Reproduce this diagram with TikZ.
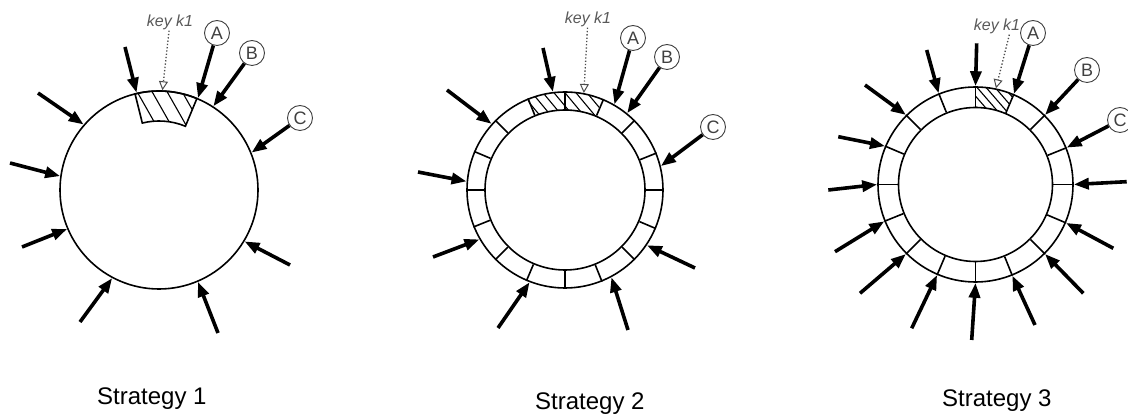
\documentclass[tikz,border=0pt]{standalone}
\usepackage{fontspec}
\setmainfont{Liberation Sans}
\usetikzlibrary{arrows.meta}

\begin{document}
\begin{tikzpicture}[x=1pt,y=1pt,
    ring/.style={draw, circle, line width=1.6pt, inner sep=0pt},
    feed/.style={line width=3.6pt, -{Triangle[length=15pt,width=11pt]}},
    peer/.style={draw=black!75, circle, line width=0.9pt, minimum size=25pt, inner sep=0pt,
      text=black!75, font=\fontsize{18}{18}\selectfont},
    keytxt/.style={text=black!65, inner sep=1pt, font=\fontsize{16}{16}\selectfont\itshape},
    keyline/.style={black!70, dotted, line width=1.3pt,
      -{Triangle[open,length=9pt,width=9pt,line width=1pt]}},
    hatch/.style={line width=1.1pt},
    title/.style={anchor=base west, inner sep=0pt, font=\fontsize{24}{24}\selectfont}]
  \useasboundingbox (0,0) rectangle (1128,417);

  % Strategy 1
  \node[ring, minimum size=198pt] (s1) at (159,227) {};
  \begin{scope}
    \clip ([shift={(67.5:69)}]s1.center) -- ([shift={(67.5:99)}]s1.center)
      arc[start angle=67.5, end angle=104, radius=99pt] -- ([shift={(104:69)}]s1.center)
      arc[start angle=104, end angle=67.5, radius=69pt] -- cycle;
    \foreach \x in {108,123,...,213}
      \draw[hatch] (\x,324) ++(-20,35) -- ++(45,-79.4);
  \end{scope}
  \draw[line width=1.6pt] ([shift={(67.5:69)}]s1.center) -- ([shift={(67.5:99)}]s1.center)
    arc[start angle=67.5, end angle=104, radius=99pt] -- ([shift={(104:69)}]s1.center)
    arc[start angle=104, end angle=67.5, radius=69pt] -- cycle;
  \foreach \a/\x/\y in {103.5/125/370, 139.7/38/324, 172.5/10/254, 203.5/22/170,
      242.4/80/95, 293.3/218/84, 329.7/290/152} {
    \coordinate (t) at (\x,\y);
    \draw[feed] (t) -- (s1.\a);
  }
  \node[peer] (A1) at (217,384) {A};
  \node[peer] (B1) at (252,364) {B};
  \node[peer] (C1) at (300,299) {C};
  \draw[feed] (A1) -- (s1.67.8);
  \draw[feed] (B1) -- (s1.57.5);
  \draw[feed] (C1) -- (s1.22.2);
  \node[keytxt] (k1) at (170,395) {key k1};
  \draw[keyline] (k1) -- (s1.88);
  \node[title] (l1) at (97,12) {Strategy 1};

  % Strategy 2
  \node[ring, minimum size=196pt] (s2) at (565,227) {};
  \node[ring, minimum size=160pt] (i2) at (565,227) {};
  \begin{scope}
    \clip ([shift={(67.5:80)}]s2.center) -- ([shift={(67.5:98)}]s2.center)
      arc[start angle=67.5, end angle=112.5, radius=98pt] -- ([shift={(112.5:80)}]s2.center)
      arc[start angle=112.5, end angle=67.5, radius=80pt] -- cycle;
    \foreach \x in {490,501,...,620}
      \draw[hatch] (\x,335) -- ++(50,-60);
  \end{scope}
  \foreach \a in {0,22.5,45,67.5,90,112.5,135,157.5,180,202.5,225,247.5,270,292.5,315,337.5}
    \draw[line width=1.6pt] (i2.\a) -- (s2.\a);
  \foreach \a/\x/\y in {97.6/543/369, 138.6/447/327, 175.9/418/245, 210.6/433/160,
      249.1/498/89, 298/628/87, 326.8/695/149} {
    \coordinate (t) at (\x,\y);
    \draw[feed] (t) -- (s2.\a);
  }
  \node[peer] (A2) at (633,379) {A};
  \node[peer] (B2) at (667,360) {B};
  \node[peer] (C2) at (713,290) {C};
  \draw[feed] (A2) -- (s2.60.5);
  \draw[feed] (B2) -- (s2.51.2);
  \draw[feed] (C2) -- (s2.14.3);
  \node[keytxt] (k2) at (588,398) {key k1};
  \draw[keyline] (k2) -- (s2.79);
  \node[title] (l2) at (535,7) {Strategy 2};

  % Strategy 3
  \node[ring, minimum size=195pt] (s3) at (975.5,232.5) {};
  \node[ring, minimum size=154pt] (i3) at (975.5,232.5) {};
  \begin{scope}
    \clip ([shift={(67.5:77)}]s3.center) -- ([shift={(67.5:97.5)}]s3.center)
      arc[start angle=67.5, end angle=90, radius=97.5pt] -- ([shift={(90:77)}]s3.center)
      arc[start angle=90, end angle=67.5, radius=77pt] -- cycle;
    \foreach \x in {950,959,...,1030}
      \draw[hatch] (\x,340) -- ++(45,-52);
  \end{scope}
  \foreach \a in {0,22.5,45,67.5,90,112.5,135,157.5,180,202.5,225,247.5,270,292.5,315,337.5}
    \draw[line width=1.6pt] (i3.\a) -- (s3.\a);
  \foreach \a/\x/\y in {112.5/926.7/367, 90/976.7/373.7, 0/1126.7/235.3, 337.5/1113.3/168.7,
      315/1083.3/123.7, 292.5/1035/92, 270/971.7/77, 247.5/911.7/88.7, 225/860/123.7,
      202.5/835/165.3, 180/828.3/227, 157.5/838.3/280.3, 135/865/332} {
    \coordinate (t) at (\x,\y);
    \draw[feed] (t) -- (s3.\a);
  }
  \node[peer] (A3) at (1033,384) {A};
  \node[peer] (B3) at (1087,347) {B};
  \node[peer] (C3) at (1120,297) {C};
  \draw[feed] (A3) -- (s3.67.5);
  \draw[feed] (B3) -- (s3.45);
  \draw[feed] (C3) -- (s3.22.5);
  \node[keytxt] (k3) at (997,391) {key k1};
  \draw[keyline] (k3.-35) -- (s3.78);
  \node[title] (l3) at (942,10) {Strategy 3};
\end{tikzpicture}
\end{document}
